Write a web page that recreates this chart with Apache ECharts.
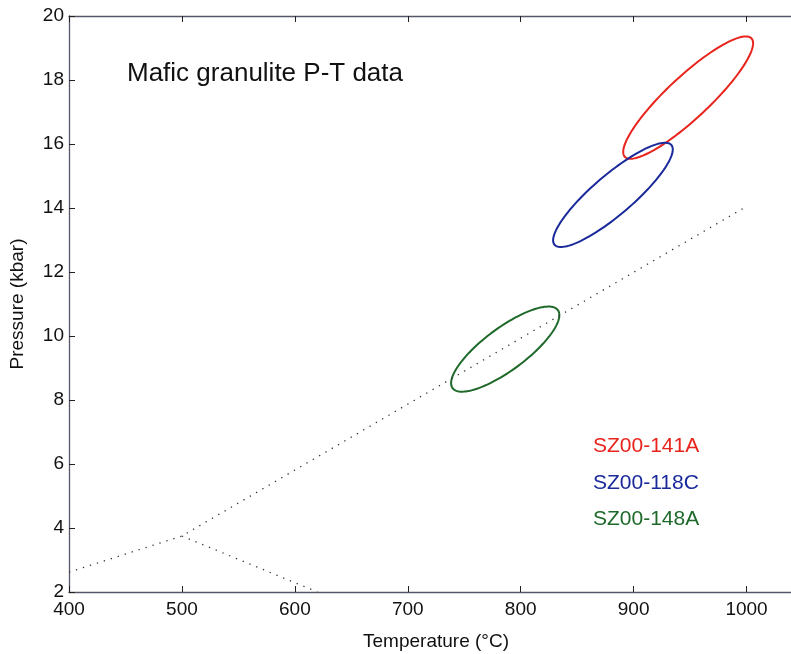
<!DOCTYPE html>
<html>
<head>
<meta charset="utf-8">
<script src="https://cdn.jsdelivr.net/npm/echarts@6/dist/echarts.min.js"></script>
<style>
  html, body { margin: 0; padding: 0; background: #fff; }
  #chart { width: 791px; height: 654px; }
</style>
</head>
<body>
<div id="chart"></div>
<script>
var chart = echarts.init(document.getElementById('chart'));

// P-T ellipses: centre, end of major semi-axis, end of minor semi-axis (degC, kbar)
var sampleNames = ['SZ00-141A', 'SZ00-118C', 'SZ00-148A'];
var sampleColors = ['#e8241d', '#1b2a9b', '#1f6a2b'];
var centreT = [948.3, 881.7, 786.3];
var centreP = [17.45, 14.41, 9.59];
var majorT = [1004.4, 933.4, 832.9];
var majorP = [19.30, 15.97, 10.81];
var minorT = [961.0, 893.3, 797.5];
var minorP = [16.97, 13.94, 9.06];

// dotted reference lines
var lineAT = [400, 500, 1000];
var lineAP = [2.62, 3.75, 14.05];
var lineBT = [500, 620];
var lineBP = [3.75, 2.0];

var xTicks = [400, 500, 600, 700, 800, 900, 1000];
var yTicks = [2, 4, 6, 8, 10, 12, 14, 16, 18, 20];

var font = "'Liberation Sans', Arial, Helvetica, sans-serif";
var axisColor = '#55576a';

function pairs(xs, ys) {
    return xs.map(function (x, i) { return [x, ys[i]]; });
}

function ellipseItem(params, api) {
    var c = api.coord([api.value(0), api.value(1)]);
    var a = api.coord([api.value(2), api.value(3)]);
    var b = api.coord([api.value(4), api.value(5)]);
    var ax = a[0] - c[0], ay = a[1] - c[1];
    var bx = b[0] - c[0], by = b[1] - c[1];
    var pts = [];
    for (var k = 0; k < 120; k++) {
        var t = k / 120 * Math.PI * 2;
        pts.push([c[0] + ax * Math.cos(t) + bx * Math.sin(t),
                  c[1] + ay * Math.cos(t) + by * Math.sin(t)]);
    }
    return {
        type: 'polygon',
        shape: { points: pts },
        style: { fill: 'none', stroke: api.visual('color'), lineWidth: 2 }
    };
}

var series = [];
sampleNames.forEach(function (name, i) {
    series.push({
        name: name,
        type: 'custom',
        renderItem: ellipseItem,
        color: sampleColors[i],
        encode: { x: [0, 2, 4], y: [1, 3, 5] },
        silent: true,
        data: [[centreT[i], centreP[i], majorT[i], majorP[i], minorT[i], minorP[i]]]
    });
});
[[lineAT, lineAP], [lineBT, lineBP]].forEach(function (l) {
    series.push({
        type: 'line',
        data: pairs(l[0], l[1]),
        symbol: 'none',
        silent: true,
        lineStyle: { color: '#333', width: 1.3, type: [1.3, 6] }
    });
});

var option = {
    animation: false,
    title: {
        text: 'Mafic granulite P-T data',
        left: 122,
        top: 56,
        textStyle: { fontFamily: font, fontSize: 26, fontWeight: 'normal', color: '#111' }
    },
    legend: {
        orient: 'vertical',
        left: 583,
        top: 430,
        itemWidth: 0,
        itemHeight: 0,
        itemGap: 13.5,
        selectedMode: false,
        textStyle: { fontFamily: font, fontSize: 21, lineHeight: 23 },
        data: sampleNames.map(function (n, i) {
            return { name: n, textStyle: { color: sampleColors[i] } };
        })
    },
    grid: { left: 69, right: -12, top: 16, bottom: 62, outerBoundsMode: 'none' },
    xAxis: [{
        type: 'value',
        min: 400,
        max: 1050,
        interval: 100,
        name: 'Temperature (\u00b0C)',
        nameLocation: 'middle',
        nameGap: 40,
        nameTextStyle: { fontFamily: font, fontSize: 19, color: '#111' },
        axisLine: { lineStyle: { color: axisColor, width: 1.3 } },
        axisTick: { inside: true, length: 6, lineStyle: { color: '#222' } },
        axisLabel: {
            fontFamily: font, fontSize: 19, color: '#111', margin: 8,
            formatter: function (v) { return xTicks.indexOf(v) >= 0 ? String(v) : ''; }
        },
        splitLine: { show: false }
    }, {
        type: 'value',
        position: 'top',
        min: 400,
        max: 1050,
        interval: 100,
        axisLine: { lineStyle: { color: axisColor, width: 1.3 } },
        axisTick: { inside: true, length: 6, lineStyle: { color: '#222' } },
        axisLabel: { show: false },
        splitLine: { show: false }
    }],
    yAxis: {
        type: 'value',
        min: 2,
        max: 20,
        interval: 2,
        name: 'Pressure (kbar)',
        nameLocation: 'middle',
        nameGap: 42,
        nameTextStyle: { fontFamily: font, fontSize: 19, color: '#111' },
        axisLine: { lineStyle: { color: axisColor, width: 1.3 } },
        axisTick: { inside: true, length: 6, lineStyle: { color: '#222' } },
        axisLabel: {
            fontFamily: font, fontSize: 19, color: '#111', margin: 5,
            formatter: function (v) { return yTicks.indexOf(v) >= 0 ? String(v) : ''; }
        },
        splitLine: { show: false }
    },
    series: series
};

chart.setOption(option);
</script>
</body>
</html>
